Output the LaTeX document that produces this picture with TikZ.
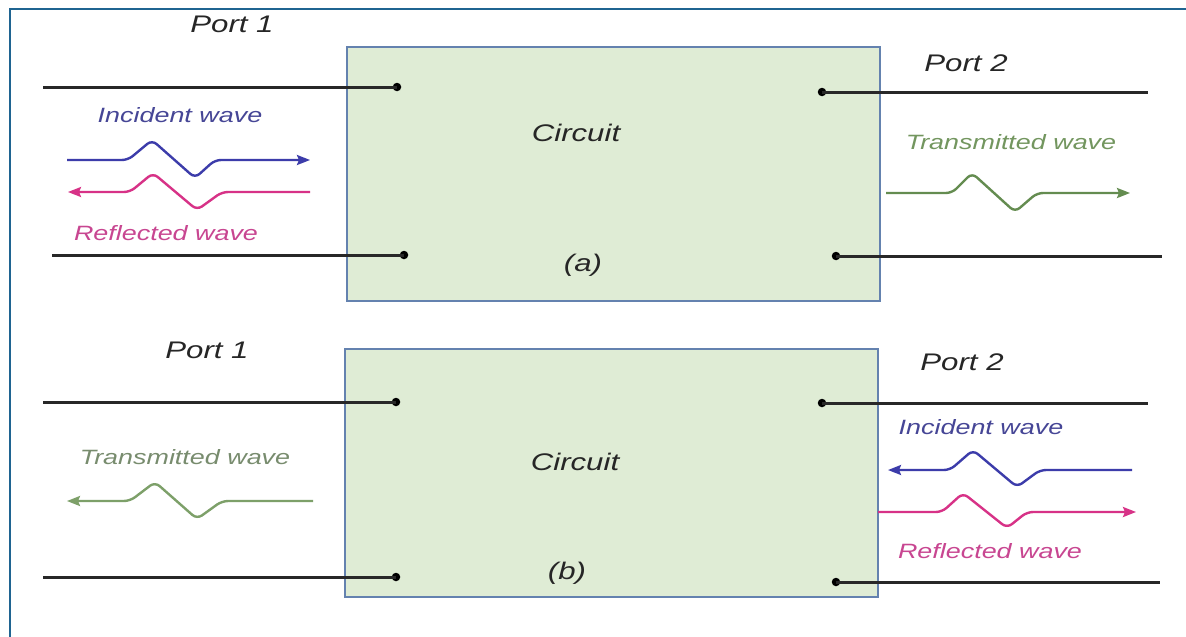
\documentclass[tikz,border=0pt]{standalone}
\usepackage{fontspec}
\setmainfont{Liberation Sans}
\usetikzlibrary{arrows.meta}
\definecolor{framec}{RGB}{31,100,145}
\definecolor{boxfill}{RGB}{223,236,213}
\definecolor{boxline}{RGB}{100,130,175}
\definecolor{wirec}{RGB}{40,40,40}
\definecolor{incblue}{RGB}{60,60,170}
\definecolor{inctext}{RGB}{70,70,150}
\definecolor{refpink}{RGB}{215,50,135}
\definecolor{reftext}{RGB}{200,70,145}
\definecolor{trgreen}{RGB}{100,140,80}
\definecolor{trtext}{RGB}{115,150,95}
\definecolor{trgreenb}{RGB}{125,160,105}
\definecolor{trtextb}{RGB}{120,140,110}
\tikzset{
  circbox/.style={draw=boxline, fill=boxfill, line width=2.2pt, inner sep=0pt},
  wire/.style={draw=wirec, line width=3pt},
  term/.style={circle, fill=black, inner sep=0pt, minimum size=8.5pt},
  lbl/.style={font=\fontsize{24}{28}\selectfont\itshape, xscale=1.3, text=black!85, inner sep=0pt},
  wlbl/.style={font=\fontsize{20.7}{24}\selectfont\itshape, xscale=1.3, inner sep=0pt},
  wave/.style={line width=2.4pt, rounded corners=6pt},
  tip/.style={-{Stealth[length=13pt,width=10pt,inset=2pt]}}
}
\begin{document}
\begin{tikzpicture}[x=1pt,y=-1pt]
\useasboundingbox (0,0) rectangle (1186,637);
\fill[white] (0,0) rectangle (1186,637);
% frame
\coordinate (fr1) at (1186,9);
\coordinate (fr2) at (10,9);
\coordinate (fr3) at (10,637);
\draw[framec, line width=2.6pt] (fr1) -- (fr2) -- (fr3);

% ---------- (a) ----------
\node[circbox, minimum width=533pt, minimum height=254pt] (boxa) at (613.5,174) {};
\node[term] (a1t) at (397,87) {};
\node[term] (a1b) at (404,255) {};
\node[term] (a2t) at (822,92) {};
\node[term] (a2b) at (836,256) {};
\coordinate (a1tl) at (43,87);
\coordinate (a1bl) at (52,255);
\coordinate (a2tr) at (1148,92);
\coordinate (a2br) at (1162,256);
\draw[wire] (a1tl) -- (a1t.center);
\draw[wire] (a1bl) -- (a1b.center);
\draw[wire] (a2t.center) -- (a2tr);
\draw[wire] (a2b.center) -- (a2br);

\node[lbl] (pa1) at (232,24) {Port 1};
\node[lbl] (pa2) at (966,63) {Port 2};
\node[lbl] (ca) at (576,133) {Circuit};
\node[lbl] (la) at (583,265) {(a)};

\node[wlbl, text=inctext] (tia) at (180,115) {Incident wave};
\coordinate (ia0) at (67,160); \coordinate (ia1) at (310,160);
\draw[wave, incblue, tip] (ia0) -- (128,160) -- (152,140) -- (195,178) -- (215,160) -- (ia1);
\coordinate (ra0) at (310,192); \coordinate (ra1) at (68,192);
\draw[wave, refpink, tip] (ra0) -- (222,192) -- (197,210) -- (153,173) -- (130,192) -- (ra1);
\node[wlbl, text=reftext] (tra) at (166,233) {Reflected wave};

\node[wlbl, text=trtext] (tta) at (1011,142) {Transmitted wave};
\coordinate (ta0) at (886,193); \coordinate (ta1) at (1130,193);
\draw[wave, trgreen, tip] (ta0) -- (952,193) -- (972,173) -- (1015,212) -- (1037,193) -- (ta1);

% ---------- (b) ----------
\node[circbox, minimum width=533pt, minimum height=248pt] (boxb) at (611.5,473) {};
\node[term] (b1t) at (396,402) {};
\node[term] (b1b) at (396,577) {};
\node[term] (b2t) at (822,403) {};
\node[term] (b2b) at (836,582) {};
\coordinate (b1tl) at (43,402);
\coordinate (b1bl) at (43,577);
\coordinate (b2tr) at (1148,403);
\coordinate (b2br) at (1160,582);
\draw[wire] (b1tl) -- (b1t.center);
\draw[wire] (b1bl) -- (b1b.center);
\draw[wire] (b2t.center) -- (b2tr);
\draw[wire] (b2b.center) -- (b2br);

\node[lbl] (pb1) at (207,350) {Port 1};
\node[lbl] (pb2) at (962,362) {Port 2};
\node[lbl] (cb) at (575,462) {Circuit};
\node[lbl] (lb) at (567,573) {(b)};

\node[wlbl, text=trtextb] (ttb) at (185,457) {Transmitted wave};
\coordinate (tb0) at (313,501); \coordinate (tb1) at (67,501);
\draw[wave, trgreenb, tip] (tb0) -- (222,501) -- (197,519) -- (155,482) -- (130,501) -- (tb1);

\node[wlbl, text=inctext] (tib) at (981,427) {Incident wave};
\coordinate (ib0) at (1132,470); \coordinate (ib1) at (888,470);
\draw[wave, incblue, tip] (ib0) -- (1040,470) -- (1017,487) -- (973,450) -- (950,470) -- (ib1);
\coordinate (rb0) at (878,512); \coordinate (rb1) at (1136,512);
\draw[wave, refpink, tip] (rb0) -- (942,512) -- (963,493) -- (1007,528) -- (1027,512) -- (rb1);
\node[wlbl, text=reftext] (trb) at (990,551) {Reflected wave};
\end{tikzpicture}
\end{document}
